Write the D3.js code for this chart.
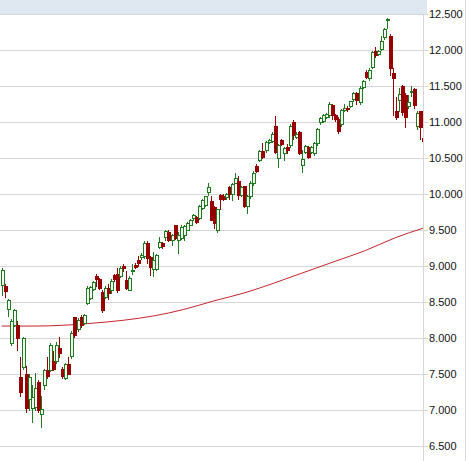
<!DOCTYPE html>
<html><head><meta charset="utf-8">
<script src="https://cdn.jsdelivr.net/npm/d3@7"></script>
<style>body{margin:0;background:#fff}svg{display:block}</style>
</head><body>
<script>
// ---- data ----
const open = [8.74,8.72,8.41,7.93,8.19,8.18,7.46,7.60,7.50,7.16, 7.03,7.05,7.39,6.95,7.35,7.56,7.56,7.68,7.68,7.87, 7.58,7.45,7.65,7.76,8.30,8.13,8.30,8.21,8.49,8.56, 8.69,8.87,8.82,8.65,8.58,8.70,8.67,8.88,8.90,8.87, 9.00,8.81,8.67,8.93,9.02,9.09,9.13,9.14,9.33,9.13, 8.96,8.96,9.27,9.32,9.40,9.48,9.36,9.57,9.37,9.39, 9.44,9.51,9.58,9.67,9.68,9.67,9.81,9.85,10.03,9.91, 9.83,9.50,9.99,9.98,9.96,10.10,10.00,10.16,10.18,9.99, 10.11,9.84,9.97,10.15,10.39,10.48,10.60,10.61,10.73,10.74, 10.95,10.51,10.75,10.58,10.66,10.68,11.01,10.80,10.86,10.41, 10.59,10.65,10.59,10.57,10.71,11.00,11.02,11.08,11.10,11.24, 11.10,11.05,10.97,11.17,11.20,11.23,11.32,11.40,11.28,11.49, 11.70,11.61,11.77,11.99,11.95,12.02,12.19,12.42,12.20,11.68, 11.15,11.31,11.50,11.38,11.23,11.42,11.46,10.95,11.15,10.78];
const close = [8.95,8.66,8.53,8.24,8.39,8.01,7.26,8.00,7.03,7.46, 7.18,7.31,7.00,7.02,7.56,7.47,7.91,7.58,7.90,7.80, 7.48,7.64,7.51,8.07,8.05,8.25,8.18,8.33,8.70,8.71, 8.78,8.82,8.70,8.39,8.70,8.63,8.80,8.82,8.67,8.98, 8.97,8.70,8.84,8.95,8.99,9.05,9.16,9.33,9.11,8.99, 9.09,9.16,9.34,9.28,9.49,9.36,9.43,9.39,9.43,9.55, 9.56,9.60,9.65,9.71,9.62,9.84,9.92,9.97,10.10,9.65, 9.60,9.79,9.94,9.94,10.01,10.00,10.14,10.22,9.99,10.10, 9.84,9.97,10.16,10.29,10.33,10.60,10.52,10.73,10.76,10.84, 10.59,10.68,10.70,10.64,10.62,10.95,10.82,10.84,10.58,10.49, 10.67,10.52,10.65,10.71,10.90,11.06,11.10,11.11,11.26,11.10, 11.04,10.88,11.17,11.20,11.18,11.29,11.40,11.31,11.48,11.57, 11.63,11.73,11.97,11.93,11.99,12.13,12.30,12.44,11.76,11.61, 11.07,11.39,11.14,11.08,11.28,11.44,11.24,11.13,10.93,10.74];
const high = [8.97,8.75,8.55,8.27,8.41,8.24,7.74,8.02,7.61,7.50, 7.35,7.52,7.42,7.20,7.57,7.74,7.93,7.82,7.95,8.02, 7.60,7.66,7.74,8.10,8.30,8.28,8.32,8.34,8.72,8.72, 8.80,8.90,8.84,8.67,8.72,8.75,8.82,8.90,8.97,9.00, 9.03,8.93,8.87,9.03,9.04,9.15,9.18,9.35,9.35,9.15, 9.20,9.17,9.41,9.34,9.50,9.50,9.45,9.58,9.47,9.57, 9.58,9.62,9.66,9.73,9.70,9.85,9.93,9.98,10.16,9.98, 9.84,9.80,10.00,10.00,10.02,10.11,10.16,10.30,10.25,10.12, 10.12,9.99,10.18,10.32,10.42,10.61,10.71,10.74,10.77,10.86, 11.09,10.70,10.77,10.66,10.70,10.97,11.03,10.86,10.88,10.61, 10.69,10.67,10.67,10.73,10.92,11.08,11.12,11.13,11.28,11.26, 11.12,11.07,11.19,11.26,11.22,11.30,11.42,11.42,11.50,11.59, 11.72,11.75,11.99,12.05,12.01,12.20,12.31,12.45,12.22,11.75, 11.35,11.48,11.52,11.40,11.38,11.50,11.48,11.15,11.16,10.80];
const low = [8.60,8.58,8.31,7.90,8.17,7.84,7.20,7.58,6.97,7.01, 6.84,7.00,6.98,6.77,7.30,7.45,7.55,7.56,7.66,7.74, 7.45,7.44,7.50,7.72,8.02,8.10,8.15,8.20,8.48,8.55, 8.67,8.72,8.68,8.36,8.56,8.55,8.63,8.80,8.65,8.85, 8.93,8.68,8.67,8.90,8.97,9.00,9.10,9.12,9.05,8.88, 8.86,8.95,9.25,9.26,9.36,9.35,9.30,9.38,9.18,9.38, 9.37,9.50,9.57,9.65,9.60,9.66,9.80,9.84,9.99,9.65, 9.53,9.47,9.80,9.92,9.94,9.94,9.92,10.15,9.94,9.97, 9.82,9.74,9.95,10.13,10.31,10.46,10.50,10.59,10.71,10.72, 10.57,10.38,10.68,10.48,10.58,10.66,10.77,10.78,10.56,10.31, 10.57,10.50,10.57,10.55,10.69,10.98,11.00,11.06,11.08,11.05, 11.02,10.85,10.95,11.15,11.16,11.21,11.30,11.26,11.26,11.47, 11.61,11.59,11.75,11.91,11.93,12.00,12.15,12.31,11.65,11.10, 11.05,11.15,11.10,10.94,11.20,11.36,11.20,10.90,10.77,10.73];
// moving average, read at a few candle positions
const maIndex = [0,10,20,30,40,50,60,70,80,90,100,110,120,130,139];
const maValue = [8.17,8.17,8.18,8.21,8.25,8.31,8.40,8.52,8.63,8.77,8.92,9.07,9.22,9.40,9.53];
const yTicks = [6.5,7,7.5,8,8.5,9,9.5,10,10.5,11,11.5,12,12.5];

// ---- drawing ----
const W = 467, H = 461;
const N = open.length;
const GREEN = "#1f7a1f", RED = "#960000";
const svg = d3.select("body").append("svg").attr("width", W).attr("height", H);

const x = d3.scaleLinear().domain([0, N - 1]).range([1.7, 423.2]);
const y = d3.scaleLinear().domain([6.5, 12.5]).range([446.3, 14.3]);

// header band
svg.append("rect").attr("x", 0).attr("y", 0).attr("width", 427).attr("height", Math.round(y(12.5)))
  .attr("fill", "#dfe7f0");

// gridlines + right labels via axis
const axis = d3.axisRight(y).tickValues(yTicks).tickFormat(d3.format(".3f"))
  .tickSize(428).tickPadding(1);
const gAxis = svg.append("g").attr("class", "axis").call(axis);
gAxis.select(".domain").remove();
gAxis.selectAll(".tick").attr("transform", d => `translate(0,${Math.round(y(d)) + 0.5})`);
gAxis.selectAll(".tick line").attr("stroke", "#d6d6d6");
gAxis.selectAll(".tick text").attr("fill", "#111")
  .style("font-family", "'Liberation Sans', Arial, sans-serif").style("font-size", "11px");

// vertical separators
svg.append("line").attr("x1", 423.5).attr("x2", 423.5).attr("y1", Math.round(y(12.5))).attr("y2", H)
  .attr("stroke", "#d6d6d6");
svg.append("line").attr("x1", 465.5).attr("x2", 465.5).attr("y1", 0).attr("y2", H)
  .attr("stroke", "#dcdcdc");

// clip
svg.append("clipPath").attr("id", "plot").append("rect")
  .attr("x", 0).attr("y", Math.round(y(12.5)) + 1).attr("width", 423).attr("height", H);
const plot = svg.append("g").attr("clip-path", "url(#plot)");

// moving average
const maLine = d3.line().x(d => x(d[0])).y(d => y(d[1])).curve(d3.curveMonotoneX);
plot.append("path").datum(maIndex.map((d, i) => [d, maValue[i]]))
  .attr("d", maLine).attr("fill", "none").attr("stroke", "#c4262b").attr("stroke-width", 1);

// candles
const candles = d3.range(N).map(i => ({i, o: open[i], c: close[i], h: high[i], l: low[i]}));
const g = plot.selectAll("g.c").data(candles).join("g").attr("class", "c");
g.each(function(d) {
  const sel = d3.select(this);
  const up = d.c >= d.o;
  const col = up ? GREEN : RED;
  const cx = Math.round(x(d.i));
  const yt = Math.round(y(Math.max(d.o, d.c)));
  const yb = Math.round(y(Math.min(d.o, d.c)));
  sel.append("line").attr("x1", cx + 0.5).attr("x2", cx + 0.5)
    .attr("y1", Math.round(y(d.h))).attr("y2", Math.round(y(d.l)) + 1)
    .attr("stroke", col).attr("stroke-width", 1);
  if (up) {
    sel.append("rect").attr("x", cx - 0.5).attr("y", yt + 0.5)
      .attr("width", 3).attr("height", Math.max(1, yb - yt))
      .attr("fill", "#f3faef").attr("stroke", col).attr("stroke-width", 1);
  } else {
    sel.append("rect").attr("x", cx - 1).attr("y", yt)
      .attr("width", 4).attr("height", Math.max(2, yb - yt + 1))
      .attr("fill", col);
  }
});
</script>
</body></html>
